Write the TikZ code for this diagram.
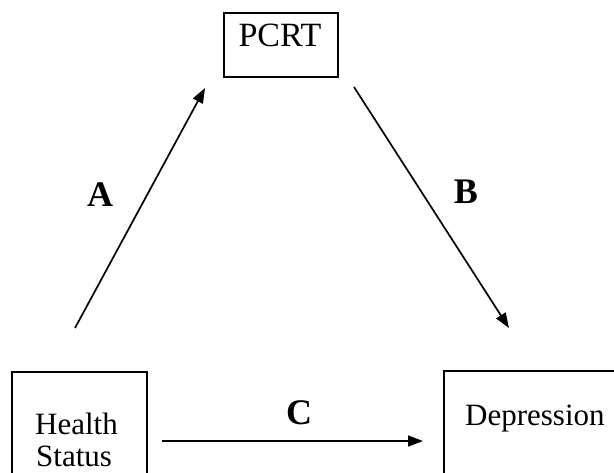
\documentclass[tikz,border=0pt]{standalone}
\usepackage{fontspec}
\setmainfont{Liberation Serif}
\usetikzlibrary{arrows.meta}
\begin{document}
\begin{tikzpicture}[x=1pt,y=-1pt,
  box/.style={draw, line width=1.5pt, inner sep=0pt},
  txt/.style={inner sep=0pt, font=\fontsize{31}{33}\selectfont},
  lbl/.style={inner sep=0pt, font=\fontsize{36}{38}\selectfont\bfseries},
  arr/.style={line width=1.7pt, -{Triangle[length=15pt,width=11pt]}}]
\useasboundingbox (0,0) rectangle (614,472);
\clip (0,0) rectangle (614,472);
% boxes
\node[box, minimum width=114pt, minimum height=64pt] (pcrt) at (281,45) {};
\node[box, minimum width=135pt, minimum height=140pt] (hs) at (79.5,442) {};
\node[box, minimum width=200pt, minimum height=140pt, anchor=north west] (dep) at (443,370) {};
% texts
\node[txt, anchor=base, font=\fontsize{34}{36}\selectfont] (pcrtt) at (280,46) {PCRT};
\node[txt, anchor=base west] (hst) at (35,434) {Health};
\node[txt, anchor=base west] (hst2) at (36,466) {Status};
\node[txt, anchor=base west] (dept) at (465,425) {Depression};
% arrow end points
\coordinate (a1) at (75,328);
\coordinate (a2) at (205,88);
\coordinate (b1) at (354,87);
\coordinate (b2) at (509,328);
\coordinate (c1) at (162,441);
\coordinate (c2) at (423,441);
\draw[arr] (a1) -- (a2);
\draw[arr] (b1) -- (b2);
\draw[arr] (c1) -- (c2);
% labels
\node[lbl] (la) at (100,195) {A};
\node[lbl] (lb) at (466,192) {B};
\node[lbl] (lc) at (299,413) {C};
\end{tikzpicture}
\end{document}
